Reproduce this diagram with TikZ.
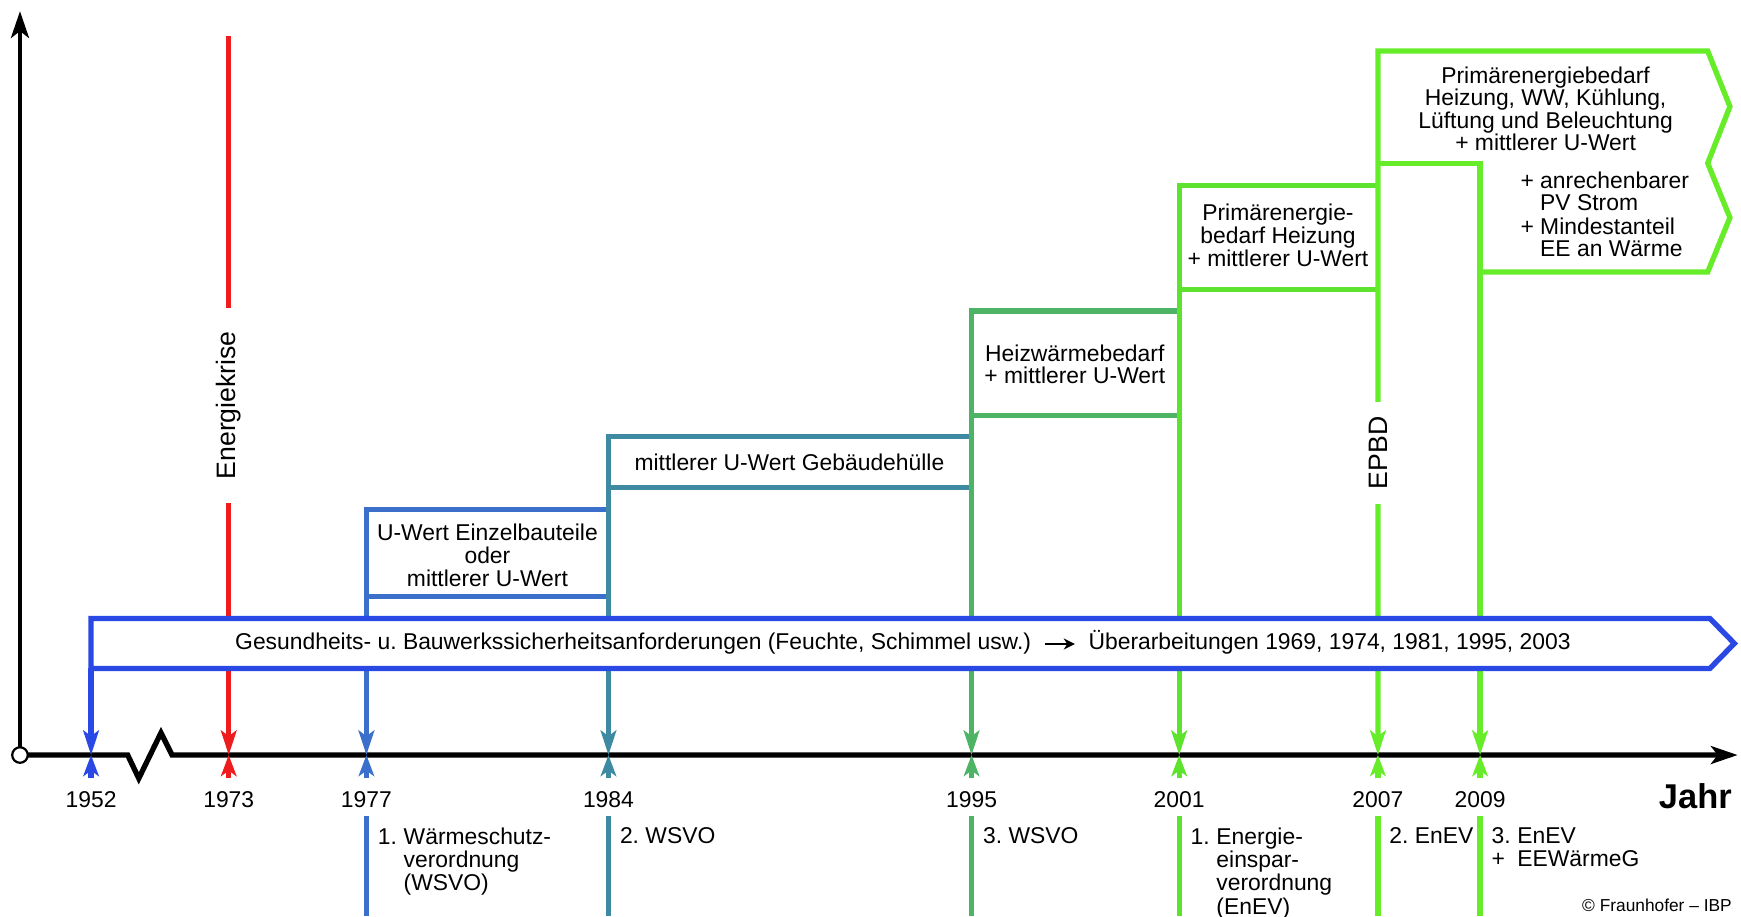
\documentclass[tikz,border=0pt]{standalone}
\usepackage{fontspec}
\setmainfont{Liberation Sans}
\frenchspacing
\usetikzlibrary{arrows.meta}
\definecolor{cBlue}{HTML}{2A48E4}
\definecolor{cRed}{HTML}{EE1C1C}
\definecolor{cWsvoA}{HTML}{3A6FCB}
\definecolor{cWsvoB}{HTML}{3E8AA2}
\definecolor{cWsvoC}{HTML}{4DB465}
\definecolor{cEnevA}{HTML}{5DE22E}
\definecolor{cEnevB}{HTML}{66EC28}
\begin{document}
\begin{tikzpicture}[x=0.5pt,y=-0.5pt,line width=2.4pt,
  font=\fontsize{10.3}{10.2}\selectfont,
  tipend/.style={-{Stealth[length=11pt,width=7pt,inset=2.5pt]}},
  tipstart/.style={{Stealth[length=11pt,width=7pt,inset=2.5pt]}-},
  tipup/.style={-{Stealth[length=9.5pt,width=7pt,inset=2.5pt]}},
  gap/.style={fill=white,rotate=90,inner ysep=1pt,font=\fontsize{12}{12}\selectfont},
  ban/.style={inner ysep=0pt,inner xsep=5pt,text height=7.5pt,text depth=2.3pt}]
  \useasboundingbox (0,0) rectangle (1568,825);
  % axes
  \coordinate (o) at (18,680);
  \coordinate (ytip) at (18,10);
  \coordinate (xtip) at (1565,680);
  \draw[-{Stealth[length=12pt,width=8pt,inset=3pt]},line width=2.2pt] (o) -- (ytip);
  \draw[-{Stealth[length=12pt,width=8pt,inset=3pt]},line join=miter]
    (o) -- (115,680) -- (125,701) -- (145,660) -- (155,680) -- (xtip);
  \foreach \x/\yr in {82/1952,206/1973,330/1977,548/1984,875/1995,1062/2001,1241/2007,1333/2009}{
    \coordinate (t\yr) at (\x,680);
    \node (l\yr) at (\x,720) {\yr};
  }
  % ticks below the axis
  \foreach \yr/\c in {1952/cBlue,1973/cRed,1977/cWsvoA,1984/cWsvoB,1995/cWsvoC,2001/cEnevA,2007/cEnevB,2009/cEnevB}
    \draw[\c,tipup] ([yshift=-10.5pt]t\yr) -- (t\yr);
  % lines and boxes
  \draw[cBlue,tipend] (82,602) -- (t1952);
  \draw[cRed,tipend] (206,32) -- (t1973);
  \draw[cWsvoA,tipstart] (t1977) |- (548,459);
  \draw[cWsvoA] (330,537) -- (548,537);
  \draw[cWsvoB,tipstart] (t1984) |- (875,393);
  \draw[cWsvoB] (548,439) -- (875,439);
  \draw[cWsvoC,tipstart] (t1995) |- (1062,280);
  \draw[cWsvoC] (875,374) -- (1062,374);
  \draw[cEnevA,tipstart] (t2001) |- (1241,167);
  \draw[cEnevA] (1062,261) -- (1241,261);
  \draw[cEnevB,tipstart,line join=miter] (t2007) |- (1538,46) -- (1558,96) -- (1538,147)
    -- (1558,196) -- (1538,245) -- (1333,245);
  \draw[cEnevB,tipstart] (t2009) -- (1333,147) -- (1241,147);
  % banner
  \draw[cBlue,fill=white,line join=miter] (82,557) -- (1540,557) -- (1562,579.5) -- (1540,602) -- (82,602) -- cycle;
  \node[ban,anchor=east] (req) at (941,580) {Gesundheits- u. Bauwerkssicherheitsanforderungen (Feuchte, Schimmel usw.)};
  \node[ban,anchor=west] (rev) at (968,580) {Überarbeitungen 1969, 1974, 1981, 1995, 2003};
  \draw[black,line width=1pt,-{Stealth[length=5pt,width=5pt]}] (req) -- (rev);
  \node[gap,inner xsep=10.5pt] (krise) at (206,365) {Energiekrise};
  \node[gap,inner xsep=6.5pt] (epbd) at (1241,408) {EPBD};
  \draw[black,line width=1pt,fill=white] (o) circle (3.5pt);
  % box texts
  \node[align=center] (b1977) at (439,500) {U-Wert Einzelbauteile\\oder\\mittlerer U-Wert};
  \node (b1984) at (711,416) {mittlerer U-Wert Gebäudehülle};
  \node[align=center] (b1995) at (968,328) {Heizwärmebedarf\\+ mittlerer U-Wert};
  \node[align=center] (b2001) at (1151,212) {Primärenergie-\\bedarf Heizung\\+ mittlerer U-Wert};
  \node[align=center] (b2007) at (1392,98) {Primärenergiebedarf\\Heizung, WW, Kühlung,\\Lüftung und Beleuchtung\\+ mittlerer U-Wert};
  \node[anchor=west,inner sep=0] (b2009) at (1367,196)
    {\begin{tabular}{@{}l@{ }l@{}}+&anrechenbarer\\&PV Strom\\+&Mindestanteil\\&EE an Wärme\end{tabular}};
  % regulations below the axis
  \foreach \x/\c in {330/cWsvoA,548/cWsvoB,875/cWsvoC,1062/cEnevA,1241/cEnevB,1333/cEnevB}
    \draw[\c] (\x,735) -- (\x,825);
  \node[below right,inner sep=0] (d1977) at (338,743)
    {\begin{tabular}{@{}l@{\hspace{3pt}}l@{}}1.&Wärmeschutz-\\&verordnung\\&(WSVO)\end{tabular}};
  \node[below right,inner sep=0] (d1984) at (556,743) {2. WSVO};
  \node[below right,inner sep=0] (d1995) at (883,743) {3. WSVO};
  \node[below right,inner sep=0] (d2001) at (1070,743)
    {\begin{tabular}{@{}l@{\hspace{3pt}}l@{}}1.&Energie-\\&einspar-\\&verordnung\\&(EnEV)\end{tabular}};
  \node[below right,inner sep=0] (d2007) at (1249,743) {2. EnEV};
  \node[below right,inner sep=0] (d2009) at (1341,743)
    {\begin{tabular}{@{}l@{\hspace{3pt}}l@{}}3.&EnEV\\+&EEWärmeG\end{tabular}};
  \node[anchor=east,inner sep=0,font=\bfseries\fontsize{15.5}{16}\selectfont] (jahr) at (1562,717) {Jahr};
  \node[anchor=east,inner sep=0,font=\fontsize{7.8}{8}\selectfont] (ibp) at (1562,815) {© Fraunhofer – IBP};
\end{tikzpicture}
\end{document}
